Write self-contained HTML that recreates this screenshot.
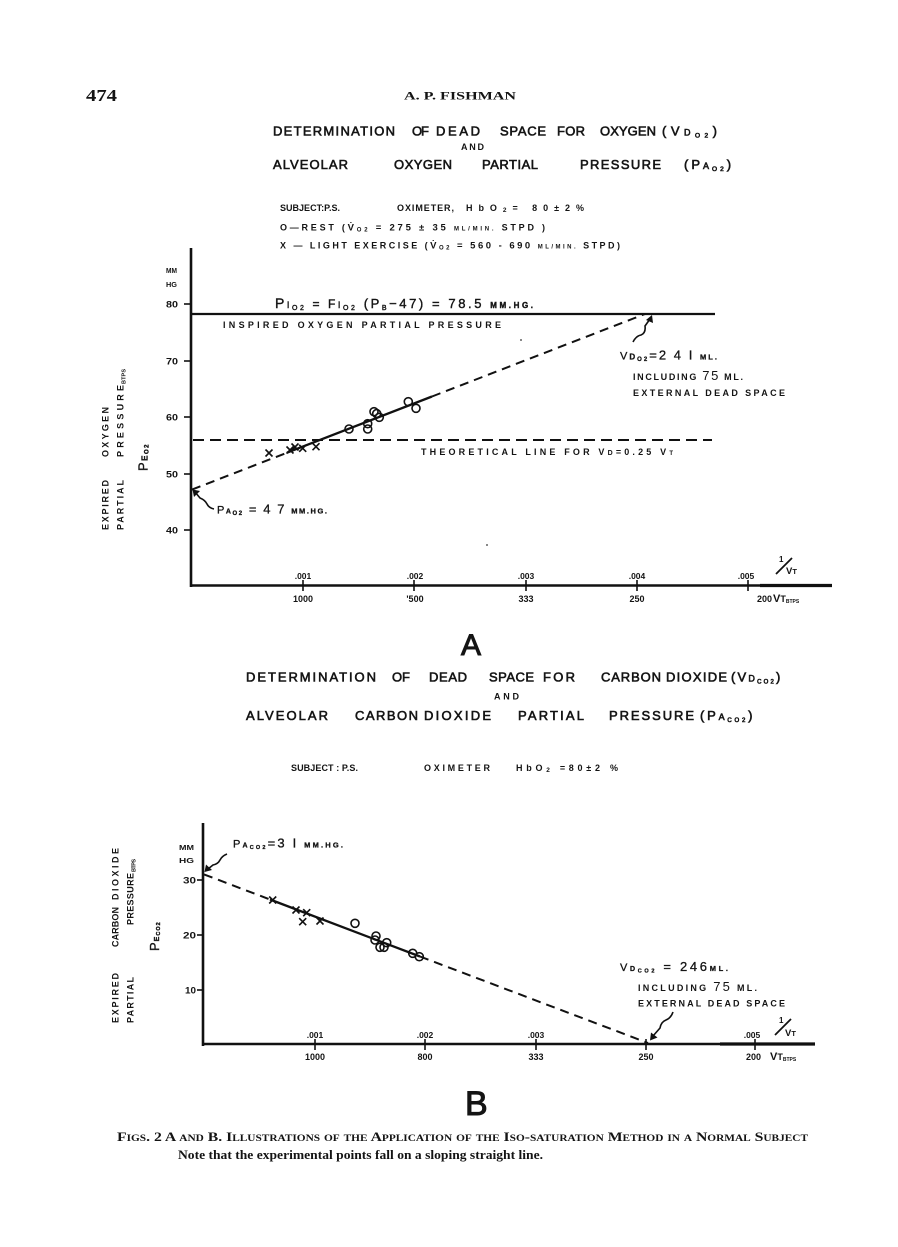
<!DOCTYPE html>
<html>
<head>
<meta charset="utf-8">
<style>
html,body{margin:0;padding:0;background:#fff;}
svg{display:block}
text{font-family:"Liberation Sans",Arial,sans-serif;fill:#141414}
.T{font-size:13px;stroke:#141414;stroke-width:0.6}
.b{font-weight:bold}
.s8{font-size:9px;font-weight:bold}
.ser{font-family:"Liberation Serif",serif}
</style>
</head>
<body>
<svg width="898" height="1247" viewBox="0 0 898 1247" xmlns="http://www.w3.org/2000/svg">
<rect width="898" height="1247" fill="#fff"/>

<!-- Header -->
<text class="ser b" x="86" y="101" font-size="17" textLength="31" lengthAdjust="spacingAndGlyphs">474</text>
<text class="ser b" x="404" y="99.5" font-size="12" textLength="112" lengthAdjust="spacingAndGlyphs">A. P. FISHMAN</text>

<!-- ===== Chart A titles ===== -->
<text class="T" x="273" y="135.5" textLength="122" lengthAdjust="spacing">DETERMINATION</text>
<text class="T" x="412" y="135.5" textLength="17" lengthAdjust="spacing">OF</text>
<text class="T" x="436" y="135.5" textLength="44" lengthAdjust="spacing">DEAD</text>
<text class="T" x="500" y="135.5" textLength="46" lengthAdjust="spacing">SPACE</text>
<text class="T" x="557" y="135.5" textLength="28" lengthAdjust="spacing">FOR</text>
<text class="T" x="600" y="135.5" textLength="56" lengthAdjust="spacing">OXYGEN</text>
<text class="T" x="662" y="135.5" letter-spacing="4.5">(V<tspan font-size="9">D</tspan><tspan font-size="6.5" dy="2">O2</tspan><tspan dy="-2">)</tspan></text>
<text class="s8" x="461" y="150" textLength="23" lengthAdjust="spacing">AND</text>
<text class="T" x="273" y="169" textLength="75" lengthAdjust="spacing">ALVEOLAR</text>
<text class="T" x="394" y="169" textLength="58" lengthAdjust="spacing">OXYGEN</text>
<text class="T" x="482" y="169" textLength="56" lengthAdjust="spacing">PARTIAL</text>
<text class="T" x="580" y="169" textLength="81" lengthAdjust="spacing">PRESSURE</text>
<text class="T" x="684" y="169" letter-spacing="3">(P<tspan font-size="9">A</tspan><tspan font-size="6.5" dy="2">O2</tspan><tspan dy="-2">)</tspan></text>

<text class="s8" x="280" y="211" textLength="60" lengthAdjust="spacing">SUBJECT:P.S.</text>
<text class="s8" x="397" y="211" textLength="57" lengthAdjust="spacing">OXIMETER,</text>
<text class="s8" x="466" y="211" font-size="9.5" textLength="118" lengthAdjust="spacing">HbO<tspan font-size="6.5" dy="1">2</tspan><tspan dy="-1">=  80±2%</tspan></text>
<text class="s8" x="280" y="230.5" textLength="265" lengthAdjust="spacing">O—REST  (<tspan font-size="9.5">V̇</tspan><tspan font-size="6" dy="1">O2</tspan><tspan font-size="9.5" dy="-1"> = 275 ± 35 </tspan><tspan font-size="6">ML/MIN.</tspan> STPD )</text>
<text class="s8" x="280" y="248.5" textLength="340" lengthAdjust="spacing">X — LIGHT  EXERCISE  (<tspan font-size="9.5">V̇</tspan><tspan font-size="6" dy="1">O2</tspan><tspan font-size="9.5" dy="-1"> = 560 - 690 </tspan><tspan font-size="6">ML/MIN.</tspan> STPD)</text>

<!-- ===== Chart A axes ===== -->
<line x1="191" y1="248" x2="191" y2="587" stroke="#111" stroke-width="2.6"/>
<line x1="190" y1="585.5" x2="832" y2="585.5" stroke="#111" stroke-width="2.6"/>
<line x1="760" y1="585.5" x2="832" y2="585.5" stroke="#111" stroke-width="3.2"/>
<g stroke="#111" stroke-width="1.6">
<line x1="184" y1="304" x2="191" y2="304"/>
<line x1="184" y1="361" x2="191" y2="361"/>
<line x1="184" y1="417" x2="191" y2="417"/>
<line x1="184" y1="474" x2="191" y2="474"/>
<line x1="184" y1="530" x2="191" y2="530"/>
</g>
<text class="b" font-size="7.5" x="166" y="273" textLength="11" lengthAdjust="spacingAndGlyphs">MM</text>
<text class="b" font-size="7.5" x="166" y="287" textLength="11" lengthAdjust="spacingAndGlyphs">HG</text>
<g class="b" font-size="9.5">
<text x="166" y="307.5" textLength="12" lengthAdjust="spacingAndGlyphs">80</text>
<text x="166" y="364.5" textLength="12" lengthAdjust="spacingAndGlyphs">70</text>
<text x="166" y="420.5" textLength="12" lengthAdjust="spacingAndGlyphs">60</text>
<text x="166" y="477.5" textLength="12" lengthAdjust="spacingAndGlyphs">50</text>
<text x="166" y="533.5" textLength="12" lengthAdjust="spacingAndGlyphs">40</text>
</g>
<g stroke="#111" stroke-width="1.6">
<line x1="303" y1="580" x2="303" y2="591"/>
<line x1="414" y1="580" x2="414" y2="591"/>
<line x1="526" y1="580" x2="526" y2="591"/>
<line x1="637" y1="580" x2="637" y2="591"/>
<line x1="748" y1="580" x2="748" y2="591"/>
</g>
<g class="b" font-size="8.5" text-anchor="middle">
<text x="303" y="579">.001</text>
<text x="415" y="579">.002</text>
<text x="526" y="579">.003</text>
<text x="637" y="579">.004</text>
<text x="746" y="579">.005</text>
</g>
<g class="b" font-size="9" text-anchor="middle">
<text x="303" y="602">1000</text>
<text x="415" y="602">'500</text>
<text x="526" y="602">333</text>
<text x="637" y="602">250</text>
<text x="757" y="602" text-anchor="start">200</text>
</g>
<text class="b" x="773" y="602" font-size="11">V<tspan font-size="9">T</tspan><tspan font-size="5" dy="1">BTPS</tspan></text>
<text class="b" x="779" y="562" font-size="8">1</text>
<line x1="776" y1="574" x2="792" y2="558" stroke="#111" stroke-width="1.8"/>
<text class="b" x="786" y="574" font-size="9.5">V<tspan font-size="7.5">T</tspan></text>

<!-- rotated Y labels A -->
<text class="s8" transform="translate(108.5,530) rotate(-90)" textLength="50" lengthAdjust="spacing">EXPIRED</text>
<text class="s8" transform="translate(108.5,457) rotate(-90)" textLength="50" lengthAdjust="spacing">OXYGEN</text>
<text class="s8" transform="translate(123.5,530) rotate(-90)" textLength="50" lengthAdjust="spacing">PARTIAL</text>
<text class="s8" transform="translate(123.5,457) rotate(-90)" textLength="72" lengthAdjust="spacing">PRESSURE</text>
<text class="b" font-size="5.5" transform="translate(125.5,384) rotate(-90)" textLength="15" lengthAdjust="spacing">BTPS</text>
<text transform="translate(147.5,471) rotate(-90)" font-size="13" stroke="#141414" stroke-width="0.4" letter-spacing="1.5">P<tspan font-size="8" class="b">E</tspan><tspan font-size="6" dy="1" class="b">O2</tspan></text>

<!-- lines A -->
<line x1="191" y1="314" x2="715" y2="314" stroke="#111" stroke-width="2.2"/>
<line x1="193" y1="440" x2="712" y2="440" stroke="#111" stroke-width="2" stroke-dasharray="11 6"/>
<line x1="192" y1="489.6" x2="287" y2="452.7" stroke="#111" stroke-width="2" stroke-dasharray="9 6"/>
<line x1="287" y1="452.7" x2="432" y2="396.5" stroke="#111" stroke-width="2.3"/>
<line x1="432" y1="396.5" x2="645" y2="314" stroke="#111" stroke-width="2" stroke-dasharray="9 6"/>

<!-- points A -->
<g fill="none" stroke="#111" stroke-width="1.6">
<circle cx="349" cy="429" r="4"/>
<circle cx="367.7" cy="423.7" r="4"/>
<circle cx="367.7" cy="429" r="4"/>
<circle cx="374" cy="411.7" r="4"/>
<circle cx="376.7" cy="413.6" r="4"/>
<circle cx="379.3" cy="417.3" r="4"/>
<circle cx="408.3" cy="401.7" r="4"/>
<circle cx="416" cy="408.3" r="4"/>
<path d="M265.5 449.5l7 7M272.5 449.5l-7 7"/>
<path d="M286.5 446.5l7 7M293.5 446.5l-7 7"/>
<path d="M291.5 443.5l7 7M298.5 443.5l-7 7"/>
<path d="M299.2 444.8l7 7M306.2 444.8l-7 7"/>
<path d="M312.5 443.2l7 7M319.5 443.2l-7 7"/>
</g>

<!-- annotations A -->
<text x="275" y="308" font-size="14" stroke="#141414" stroke-width="0.4" textLength="258" lengthAdjust="spacing">P<tspan font-size="9">I</tspan><tspan font-size="7" dy="2">O2</tspan><tspan dy="-2" font-size="12"> = F</tspan><tspan font-size="9">I</tspan><tspan font-size="7" dy="2">O2</tspan><tspan dy="-2" font-size="13"> (P</tspan><tspan font-size="7" dy="2">B</tspan><tspan dy="-2" font-size="13">−47) = 78.5 </tspan><tspan font-size="8" class="b">MM.HG.</tspan></text>
<text class="s8" x="223" y="328" textLength="278" lengthAdjust="spacing">INSPIRED   OXYGEN   PARTIAL   PRESSURE</text>
<text class="s8" x="421" y="455" textLength="252" lengthAdjust="spacing">THEORETICAL  LINE  FOR   V<tspan font-size="7">D</tspan>=0.25 V<tspan font-size="6">T</tspan></text>
<text x="217" y="513.5" font-size="11" stroke="#141414" stroke-width="0.3" textLength="110" lengthAdjust="spacing">P<tspan font-size="7" class="b">A</tspan><tspan font-size="6" dy="1.5" class="b">O2</tspan><tspan dy="-1.5" font-size="13"> = 4 7 </tspan><tspan font-size="7.5" class="b">MM.HG.</tspan></text>
<path d="M214 509 q-5 -1 -7 -5 q-2 -4 -7 -6 L195 492" fill="none" stroke="#111" stroke-width="1.6"/>
<path d="M192.5 489.5 L200 491 L194 497 Z" fill="#111"/>
<text x="620" y="359.5" font-size="11" stroke="#141414" stroke-width="0.3" textLength="97" lengthAdjust="spacing">V<tspan font-size="8" class="b">D</tspan><tspan font-size="6" dy="1.5" class="b">O2</tspan><tspan dy="-1.5" font-size="13">=2 4 I </tspan><tspan font-size="7.5" class="b">ML.</tspan></text>
<text class="s8" x="633" y="380" textLength="110" lengthAdjust="spacing">INCLUDING <tspan font-size="13" font-weight="normal">75</tspan> ML.</text>
<text class="s8" x="633" y="396" textLength="152" lengthAdjust="spacing">EXTERNAL  DEAD  SPACE</text>
<path d="M633 342 q3 -6 8 -7 q5 -2 4 -9 L650 319" fill="none" stroke="#111" stroke-width="1.6"/>
<path d="M652 315 L646 320 L653 323 Z" fill="#111"/>
<circle cx="521" cy="340" r="0.9" fill="#333"/>
<circle cx="487" cy="545" r="0.9" fill="#333"/>

<!-- Letter A -->
<text x="461" y="655" font-size="30" stroke="#141414" stroke-width="1">A</text>

<!-- ===== Chart B titles ===== -->
<text class="T" x="246" y="681.5" textLength="130" lengthAdjust="spacing">DETERMINATION</text>
<text class="T" x="392" y="681.5" textLength="18" lengthAdjust="spacing">OF</text>
<text class="T" x="429" y="681.5" textLength="38" lengthAdjust="spacing">DEAD</text>
<text class="T" x="489" y="681.5" textLength="45" lengthAdjust="spacing">SPACE</text>
<text class="T" x="543" y="681.5" textLength="32" lengthAdjust="spacing">FOR</text>
<text class="T" x="601" y="681.5" textLength="60" lengthAdjust="spacing">CARBON</text>
<text class="T" x="666" y="681.5" textLength="61" lengthAdjust="spacing">DIOXIDE</text>
<text class="T" x="731" y="681.5" letter-spacing="2.2">(V<tspan font-size="9">D</tspan><tspan font-size="6" dy="2">CO2</tspan><tspan dy="-2">)</tspan></text>
<text class="s8" x="494" y="699.5" textLength="25" lengthAdjust="spacing">AND</text>
<text class="T" x="246" y="720" textLength="82" lengthAdjust="spacing">ALVEOLAR</text>
<text class="T" x="355" y="720" textLength="63" lengthAdjust="spacing">CARBON</text>
<text class="T" x="424" y="720" textLength="67" lengthAdjust="spacing">DIOXIDE</text>
<text class="T" x="518" y="720" textLength="66" lengthAdjust="spacing">PARTIAL</text>
<text class="T" x="609" y="720" textLength="85" lengthAdjust="spacing">PRESSURE</text>
<text class="T" x="700" y="720" letter-spacing="2.8">(P<tspan font-size="9">A</tspan><tspan font-size="6" dy="2">CO2</tspan><tspan dy="-2">)</tspan></text>

<text class="s8" x="291" y="771" textLength="67" lengthAdjust="spacing">SUBJECT : P.S.</text>
<text class="s8" x="424" y="771" textLength="66" lengthAdjust="spacing">OXIMETER</text>
<text class="s8" x="516" y="771" textLength="102" lengthAdjust="spacing">HbO<tspan font-size="6.5" dy="1">2</tspan><tspan dy="-1"> =80±2  %</tspan></text>

<!-- ===== Chart B axes ===== -->
<line x1="203" y1="823" x2="203" y2="1046" stroke="#111" stroke-width="2.6"/>
<line x1="202" y1="1044" x2="815" y2="1044" stroke="#111" stroke-width="2.6"/>
<line x1="720" y1="1044" x2="815" y2="1044" stroke="#111" stroke-width="3.2"/>
<g stroke="#111" stroke-width="1.6">
<line x1="197" y1="880" x2="203" y2="880"/>
<line x1="197" y1="935" x2="203" y2="935"/>
<line x1="197" y1="990" x2="203" y2="990"/>
<line x1="315" y1="1039" x2="315" y2="1050"/>
<line x1="425" y1="1039" x2="425" y2="1050"/>
<line x1="536" y1="1039" x2="536" y2="1050"/>
<line x1="646" y1="1039" x2="646" y2="1050"/>
<line x1="755" y1="1039" x2="755" y2="1050"/>
</g>
<text class="b" font-size="7.5" x="179" y="850" textLength="15" lengthAdjust="spacingAndGlyphs">MM</text>
<text class="b" font-size="7.5" x="179" y="863" textLength="15" lengthAdjust="spacingAndGlyphs">HG</text>
<g class="b" font-size="9.5">
<text x="183" y="883.5" textLength="13" lengthAdjust="spacingAndGlyphs">30</text>
<text x="183" y="938.5" textLength="13" lengthAdjust="spacingAndGlyphs">20</text>
<text x="185" y="993.5" textLength="11" lengthAdjust="spacingAndGlyphs">10</text>
</g>
<g class="b" font-size="8.5" text-anchor="middle">
<text x="315" y="1038">.001</text>
<text x="425" y="1038">.002</text>
<text x="536" y="1038">.003</text>
<text x="752" y="1038">.005</text>
</g>
<g class="b" font-size="9" text-anchor="middle">
<text x="315" y="1060">1000</text>
<text x="425" y="1060">800</text>
<text x="536" y="1060">333</text>
<text x="646" y="1060">250</text>
<text x="746" y="1060" text-anchor="start">200</text>
</g>
<text class="b" x="770" y="1060" font-size="11">V<tspan font-size="9">T</tspan><tspan font-size="5" dy="1">BTPS</tspan></text>
<text class="b" x="779" y="1023" font-size="8">1</text>
<line x1="775" y1="1035" x2="791" y2="1019" stroke="#111" stroke-width="1.8"/>
<text class="b" x="785" y="1036" font-size="9.5">V<tspan font-size="7.5">T</tspan></text>

<!-- rotated Y labels B -->
<text class="s8" transform="translate(118.5,1023) rotate(-90)" textLength="50" lengthAdjust="spacing">EXPIRED</text>
<text class="s8" transform="translate(118.5,947) rotate(-90)" textLength="40" lengthAdjust="spacing">CARBON</text>
<text class="s8" transform="translate(118.5,900) rotate(-90)" textLength="52" lengthAdjust="spacing">DIOXIDE</text>
<text class="s8" transform="translate(133.5,1023) rotate(-90)" textLength="46" lengthAdjust="spacing">PARTIAL</text>
<text class="s8" transform="translate(133.5,925) rotate(-90)" textLength="52" lengthAdjust="spacing">PRESSURE</text>
<text class="b" font-size="5.5" transform="translate(135.5,872) rotate(-90)" textLength="13" lengthAdjust="spacing">BTPS</text>
<text transform="translate(159,951) rotate(-90)" font-size="13" stroke="#141414" stroke-width="0.4" letter-spacing="1">P<tspan font-size="7" class="b">E</tspan><tspan font-size="5.5" dy="1" class="b">CO2</tspan></text>

<!-- lines B -->
<line x1="204" y1="874.4" x2="270" y2="899.5" stroke="#111" stroke-width="2" stroke-dasharray="9 6"/>
<line x1="270" y1="899.5" x2="420" y2="956.5" stroke="#111" stroke-width="2.3"/>
<line x1="420" y1="956.5" x2="648" y2="1043" stroke="#111" stroke-width="2" stroke-dasharray="9 6"/>

<!-- points B -->
<g fill="none" stroke="#111" stroke-width="1.6">
<circle cx="355" cy="923.3" r="4"/>
<circle cx="376" cy="936" r="4"/>
<circle cx="375" cy="940" r="4"/>
<circle cx="380" cy="947.3" r="4"/>
<circle cx="384" cy="947.3" r="4"/>
<circle cx="386.7" cy="942.7" r="4"/>
<circle cx="412.7" cy="953.3" r="4"/>
<circle cx="419.3" cy="956.7" r="4"/>
<path d="M269.2 896.5l7 7M276.2 896.5l-7 7"/>
<path d="M292.5 906.5l7 7M299.5 906.5l-7 7"/>
<path d="M303.2 909.2l7 7M310.2 909.2l-7 7"/>
<path d="M299.2 918.2l7 7M306.2 918.2l-7 7"/>
<path d="M316.5 917.5l7 7M323.5 917.5l-7 7"/>
</g>

<!-- annotations B -->
<text x="233" y="847.5" font-size="11" stroke="#141414" stroke-width="0.3" textLength="110" lengthAdjust="spacing">P<tspan font-size="7" class="b">A</tspan><tspan font-size="5.5" dy="1.5" class="b">CO2</tspan><tspan dy="-1.5" font-size="13">=3 I </tspan><tspan font-size="7.5" class="b">MM.HG.</tspan></text>
<path d="M227 854 q-5 2 -7 6 q-2 4 -7 5 L208 869" fill="none" stroke="#111" stroke-width="1.6"/>
<path d="M204.5 872 L206 864.5 L212 870 Z" fill="#111"/>
<text x="620" y="971" font-size="11" stroke="#141414" stroke-width="0.3" textLength="108" lengthAdjust="spacing">V<tspan font-size="7" class="b">D</tspan><tspan font-size="5.5" dy="1.5" class="b">CO2</tspan><tspan dy="-1.5" font-size="13"> = 246</tspan><tspan font-size="7.5" class="b">ML.</tspan></text>
<text class="s8" x="638" y="991" textLength="119" lengthAdjust="spacing">INCLUDING <tspan font-size="13" font-weight="normal">75</tspan> ML.</text>
<text class="s8" x="638" y="1006.5" textLength="147" lengthAdjust="spacing">EXTERNAL  DEAD  SPACE</text>
<path d="M673 1012 q-2 6 -7 8 q-5 2 -6 8 L653 1036" fill="none" stroke="#111" stroke-width="1.6"/>
<path d="M650 1040.5 L651 1032.5 L657.5 1037.5 Z" fill="#111"/>

<!-- Letter B -->
<text x="465" y="1115" font-size="34" stroke="#141414" stroke-width="1">B</text>

<!-- Caption -->
<text class="ser b" x="117" y="1141" font-size="12.5" style="font-variant:small-caps" textLength="691" lengthAdjust="spacingAndGlyphs">Figs. 2 A and B.   Illustrations of the Application of the Iso-saturation Method in a Normal Subject</text>
<text class="ser b" x="178" y="1159" font-size="12.5" textLength="365" lengthAdjust="spacingAndGlyphs">Note that the experimental points fall on a sloping straight line.</text>
</svg>
</body>
</html>
